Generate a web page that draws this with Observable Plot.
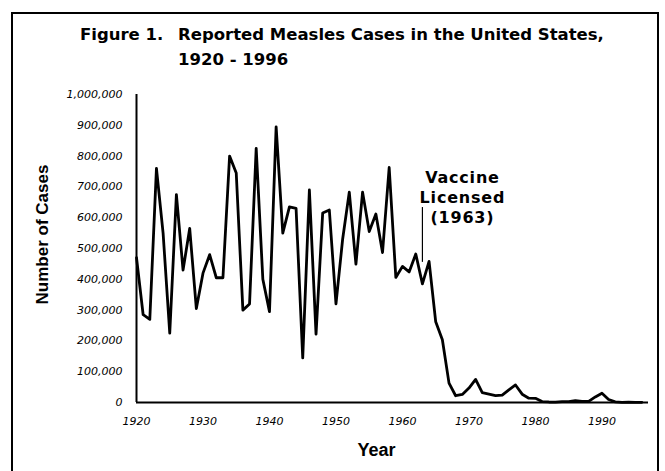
<!DOCTYPE html>
<html><head><meta charset="utf-8">
<script src="https://cdn.jsdelivr.net/npm/d3@7"></script>
<script src="https://cdn.jsdelivr.net/npm/@observablehq/plot@0.6"></script>
<style>
html,body{margin:0;padding:0;background:#fff;width:665px;height:471px;overflow:hidden;position:relative;}
#frame{position:absolute;left:11px;top:12px;width:648px;height:500px;border:2px solid #000;box-sizing:border-box;}
.t{position:absolute;font-family:"DejaVu Sans";font-weight:bold;font-size:16.5px;white-space:nowrap;line-height:1;color:#000;}
#chart{position:absolute;left:0;top:80px;}
</style></head><body>
<div id="frame"></div>
<div class="t" style="left:80px;top:27px">Figure 1.</div>
<div class="t" style="left:178px;top:27px">Reported Measles Cases in the United States,</div>
<div class="t" style="left:178px;top:52px">1920 - 1996</div>
<div id="chart"></div>
<script>
const years = [1920,1921,1922,1923,1924,1925,1926,1927,1928,1929,
  1930,1931,1932,1933,1934,1935,1936,1937,1938,1939,
  1940,1941,1942,1943,1944,1945,1946,1947,1948,1949,
  1950,1951,1952,1953,1954,1955,1956,1957,1958,1959,
  1960,1961,1962,1963,1964,1965,1966,1967,1968,1969,
  1970,1971,1972,1973,1974,1975,1976,1977,1978,1979,
  1980,1981,1982,1983,1984,1985,1986,1987,1988,1989,
  1990,1991,1992,1993,1994,1995,1996];
const cases = [470000,285000,270000,760000,550000,225000,675000,430000,565000,305000,
  420000,480000,405000,405000,800000,745000,300000,320000,825000,400000,
  295000,895000,550000,635000,630000,145000,690000,222000,615000,625000,
  320000,530000,683000,449000,683000,555000,612000,487000,763000,406000,
  442000,424000,482000,385000,458000,262000,204000,63000,22000,26000,
  47000,75000,32000,27000,22000,24000,41000,57000,27000,14000,
  13500,3000,1700,1500,2600,2800,6300,3700,3400,18000,
  30000,9600,2200,300,1000,300,500];
const xTicks = [1920,1930,1940,1950,1960,1970,1980,1990];
const yTicks = [0,100000,200000,300000,400000,500000,600000,700000,800000,900000,1000000];
const annotYear = [1963];
const annotLabel = ["Vaccine\nLicensed\n(1963)"];
const annotLabelValue = [668000];
const annotArrowTop = [633000];
const annotArrowBottom = [455000];
const yTitle = "Number of Cases";
const xTitle = "Year";

const data = years.map((y, i) => ({year: y, cases: cases[i]}));
const annot = annotYear.map((y, i) => ({year: y, label: annotLabel[i], v: annotLabelValue[i], top: annotArrowTop[i], bottom: annotArrowBottom[i]}));

const chart = Plot.plot({
  width: 665, height: 391,
  marginLeft: 136, marginRight: 17, marginTop: 14, marginBottom: 69,
  style: {fontFamily: "DejaVu Sans", fontSize: "11px", fontStyle: "italic", background: "transparent", color: "#000"},
  x: {domain: [1920, 1997], label: null},
  y: {domain: [0, 1000000], label: null},
  marks: [
    Plot.axisX({ticks: xTicks, tickFormat: d => String(d), tickSize: 0, tickPadding: 15, label: null, fontStyle: "italic"}),
    Plot.axisY({ticks: yTicks, tickFormat: d3.format(","), tickSize: 0, tickPadding: 14, label: null, fontStyle: "italic"}),
    Plot.ruleX([1920], {strokeWidth: 2}),
    Plot.ruleY([0], {strokeWidth: 2}),
    Plot.line(data, {x: "year", y: "cases", stroke: "#000", strokeWidth: 2.8}),
    Plot.ruleX(annot, {x: "year", y1: "top", y2: "bottom", strokeWidth: 1.2}),
    Plot.text(annot, {x: "year", y: "v", text: "label", dx: 40, lineHeight: 1.22, fontSize: 16, fontWeight: "bold", fontStyle: "normal", fontFamily: "DejaVu Sans"}),
    Plot.text([yTitle], {text: d => d, frameAnchor: "left", textAnchor: "middle", rotate: -90, dx: -94, dy: -14, fontSize: 17, fontWeight: "bold", fontStyle: "normal", fontFamily: "Liberation Sans"}),
    Plot.text([xTitle], {text: d => d, frameAnchor: "bottom", dx: -16, dy: 53, fontSize: 18, fontWeight: "bold", fontStyle: "normal", fontFamily: "Liberation Sans"})
  ]
});
chart.querySelectorAll("text").forEach(t => {
  if (t.textContent.includes("Vaccine")) t.style.letterSpacing = "0.8px";
});
document.getElementById("chart").appendChild(chart);
</script>
</body></html>
